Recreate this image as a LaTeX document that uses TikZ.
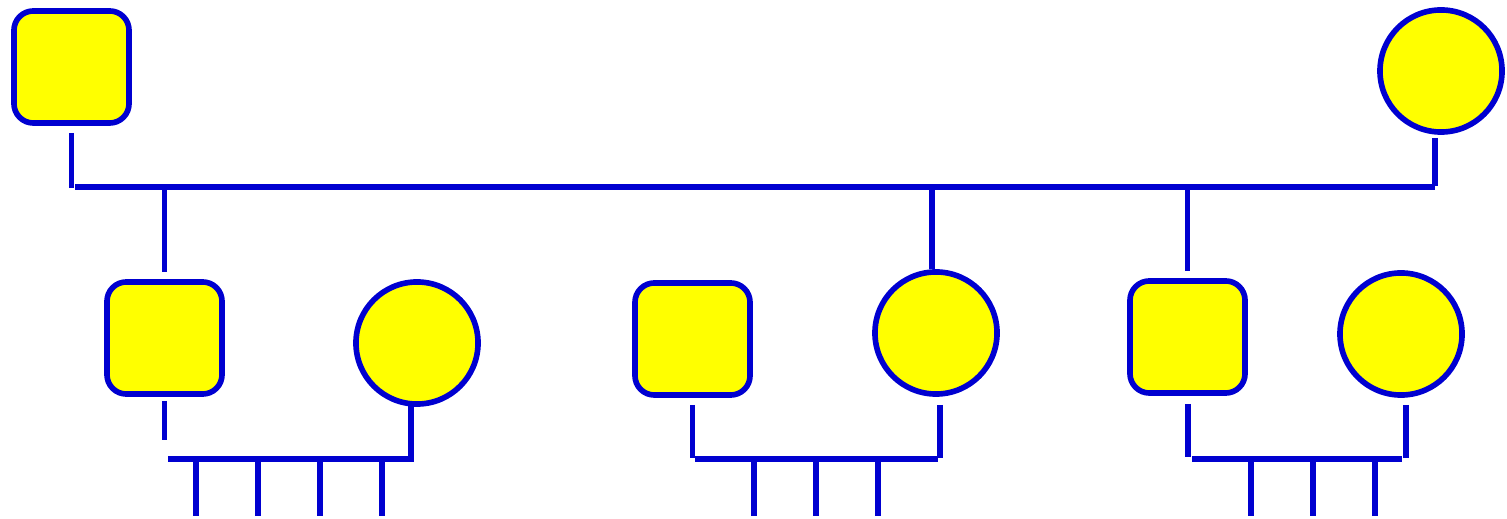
\documentclass[tikz,border=0pt]{standalone}
\usetikzlibrary{positioning}
\definecolor{pedblue}{RGB}{0,0,208}
\definecolor{pedyellow}{RGB}{255,255,0}
\tikzset{
  male/.style={draw=pedblue, fill=pedyellow, line width=1.6pt, rounded corners=5.5pt,
    minimum width=1.15cm, minimum height=1.12cm, inner sep=0pt},
  female/.style={draw=pedblue, fill=pedyellow, line width=1.6pt, circle,
    minimum size=1.22cm, inner sep=0pt},
  link/.style={draw=pedblue, line width=1.6pt}
}
\begin{document}
\begin{tikzpicture}[x=0.01cm, y=-0.01cm]
  \useasboundingbox (0,0) rectangle (1507,519);
  % founders
  \node[male] (f1) at (71.5,67) {};
  \node[female] (m1) at (1441,71) {};
  \coordinate (sib1) at (75,187);
  \coordinate (sib2) at (1435,187);
  \draw[link] (sib1) -- (sib2);
  \draw[link] ([yshift=-0.7mm]f1.south) -- ++(0,55);
  \draw[link] ([xshift=-0.6mm,yshift=-0.3mm]m1.south) -- ++(0,48);
  % children of founders and their partners
  \node[male] (s1) at (164.5,338) {};
  \node[female] (c1) at (417,343) {};
  \node[male] (s2) at (692.5,339) {};
  \node[female] (c2) at (936,333) {};
  \node[male] (s3) at (1187.5,337) {};
  \node[female] (c3) at (1401,334) {};
  \draw[link] (s1.north |- sib1) -- ([yshift=0.7mm]s1.north);
  \draw[link] ([xshift=-0.4mm]c2.north |- sib1) -- ([xshift=-0.4mm]c2.north);
  \draw[link] (s3.north |- sib1) -- ([yshift=0.7mm]s3.north);
  % family 1
  \coordinate (bar1l) at (168,459);
  \coordinate (bar1r) at (411,459);
  \draw[link] ([yshift=-0.4mm]s1.south) -- ++(0,39);
  \draw[link] (bar1l) -- (bar1r) -- ++(0,-54);
  \foreach \x in {196,258,320,382}
    \draw[link] (\x,459) -- (\x,516);
  % family 2
  \coordinate (bar2l) at (695,459);
  \coordinate (bar2r) at (938,459);
  \draw[link] (bar2l) -- (bar2r);
  \draw[link] ([yshift=-0.7mm]s2.south) -- ++(0,53);
  \draw[link] ([xshift=0.4mm,yshift=-0.8mm]c2.south) -- ++(0,53);
  \foreach \x in {754,816,878}
    \draw[link] (\x,459) -- (\x,516);
  % family 3
  \coordinate (bar3l) at (1192,459);
  \coordinate (bar3r) at (1402,459);
  \draw[link] (bar3l) -- (bar3r);
  \draw[link] ([xshift=0.05mm,yshift=-0.8mm]s3.south) -- ++(0,53);
  \draw[link] ([xshift=0.5mm,yshift=-0.7mm]c3.south) -- ++(0,53);
  \foreach \x in {1251,1313,1375}
    \draw[link] (\x,459) -- (\x,516);
\end{tikzpicture}
\end{document}
